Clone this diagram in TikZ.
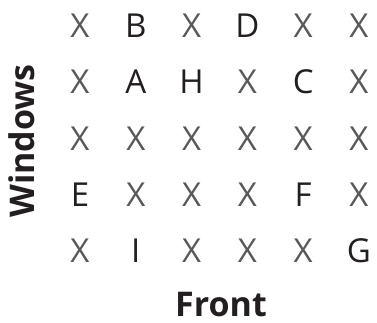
\documentclass[tikz,border=0pt]{standalone}
\usepackage{fontspec}
\setmainfont{Open Sans}
\definecolor{xgray}{HTML}{595959}
\definecolor{lblack}{HTML}{231F20}
\begin{document}
\begin{tikzpicture}[x=1pt,y=-1pt,
  cell/.style={anchor=base,inner sep=0pt,font=\fontsize{33}{38}\selectfont},
  xcell/.style={cell,text=xgray},
  lcell/.style={cell,text=lblack},
  title/.style={inner sep=0pt,text=lblack,font=\fontsize{34}{40}\selectfont\bfseries}]
\useasboundingbox (0,0) rectangle (377,323);
\newcommand\gridrow[2]{%
  \foreach [count=\c] \t/\k in {#2} {
    \pgfmathsetmacro{\xx}{80+55.8*(\c-1)}
    \node[\k cell] (n-#1-\c) at (\xx,{38+56*(#1-1)}) {\t};
  }}
\gridrow{1}{X/x,B/l,X/x,D/l,X/x,X/x}
\gridrow{2}{X/x,A/l,H/l,X/x,C/l,X/x}
\gridrow{3}{X/x,X/x,X/x,X/x,X/x,X/x}
\gridrow{4}{E/l,X/x,X/x,X/x,F/l,X/x}
\gridrow{5}{X/x,I/l,X/x,X/x,X/x,G/l}
\node[title,rotate=90] (win) at (22,141) {Windows};
\node[title,anchor=base] (front) at (221,316) {Front};
\end{tikzpicture}
\end{document}
